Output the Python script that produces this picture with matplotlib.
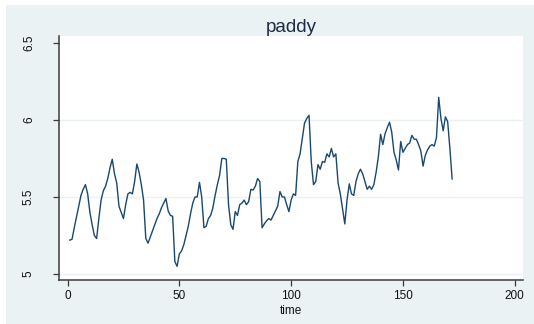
import numpy as np
import matplotlib.pyplot as plt
from matplotlib.patches import Rectangle

plt.rcParams['font.family'] = ['Liberation Sans', 'DejaVu Sans']

# monthly paddy series (log scale), t = 1..172
time = np.arange(1, 173)
paddy = [
    5.22, 5.225, 5.30, 5.37, 5.44, 5.51, 5.55, 5.58, 5.52, 5.40,
    5.32, 5.25, 5.23, 5.36, 5.48, 5.54, 5.57, 5.62, 5.69, 5.745,
    5.65, 5.59, 5.44, 5.40, 5.36, 5.45, 5.52, 5.53, 5.52, 5.60,
    5.714, 5.66, 5.58, 5.48, 5.23, 5.20, 5.24, 5.28, 5.32, 5.36,
    5.39, 5.43, 5.46, 5.49, 5.41, 5.38, 5.375, 5.08, 5.05, 5.13,
    5.15, 5.19, 5.25, 5.31, 5.39, 5.46, 5.50, 5.50, 5.595, 5.50,
    5.30, 5.31, 5.36, 5.38, 5.43, 5.51, 5.58, 5.64, 5.75, 5.75,
    5.745, 5.45, 5.32, 5.29, 5.405, 5.38, 5.45, 5.46, 5.48, 5.45,
    5.47, 5.55, 5.545, 5.57, 5.62, 5.60, 5.30, 5.325, 5.345, 5.36,
    5.35, 5.38, 5.41, 5.44, 5.535, 5.50, 5.50, 5.45, 5.405, 5.48,
    5.52, 5.51, 5.73, 5.78, 5.88, 5.98, 6.01, 6.03, 5.73, 5.58,
    5.60, 5.71, 5.68, 5.73, 5.725, 5.78, 5.76, 5.815, 5.76, 5.78,
    5.59, 5.52, 5.42, 5.325, 5.48, 5.585, 5.52, 5.51, 5.60, 5.65,
    5.68, 5.65, 5.60, 5.55, 5.57, 5.55, 5.58, 5.66, 5.76, 5.907,
    5.84, 5.91, 5.95, 5.985, 5.92, 5.79, 5.74, 5.675, 5.86, 5.79,
    5.815, 5.84, 5.85, 5.90, 5.875, 5.875, 5.84, 5.80, 5.70, 5.77,
    5.805, 5.83, 5.84, 5.83, 5.885, 6.147, 6.01, 5.93, 6.02, 5.99,
    5.815, 5.617,
]
xticks = [0, 50, 100, 150, 200]
yticks = [5, 5.5, 6, 6.5]
ytick_labels = ['5', '5.5', '6', '6.5']

bg = '#eaf2f3'
fig = plt.figure(figsize=(5.34, 3.24), dpi=100, facecolor='white')
fig.add_artist(Rectangle((6 / 534, 0), 1 - 6 / 534, 319 / 324,
                         transform=fig.transFigure, facecolor=bg,
                         edgecolor='none', zorder=0))

ax = fig.add_axes([0.111, 0.1358, 0.9794 - 0.111, 0.8889 - 0.1358])
ax.set_facecolor('white')
ax.plot(time, paddy, color='#1a476f', lw=1.0, zorder=3)

for v in [5, 5.5, 6]:
    ax.axhline(v, color=bg, lw=1.0, zorder=1)

ax.set_xlim(-3.7, 203.7)
ax.set_ylim(4.961, 6.545)
ax.set_xticks(xticks)
ax.set_yticks(yticks)
ax.set_yticklabels(ytick_labels, rotation=90, va='center')

for side in ['top', 'right']:
    ax.spines[side].set_visible(False)
for side in ['left', 'bottom']:
    ax.spines[side].set_color('#3a3a3a')
    ax.spines[side].set_linewidth(1.1)

ax.tick_params(axis='both', colors='#3a3a3a', labelcolor='#111111',
               labelsize=8.5, length=4, width=0.9)
ax.tick_params(axis='y', pad=13.5)
ax.tick_params(axis='x', pad=3.5)

ax.set_xlabel('time', fontsize=8.5, color='#111111', labelpad=1.5)
fig.text(0.545, 1 - 32 / 324, 'paddy', fontsize=13.5, color='#1f2a44',
         ha='center', va='baseline')

fig.savefig('out.png', dpi=100, facecolor=fig.get_facecolor())
